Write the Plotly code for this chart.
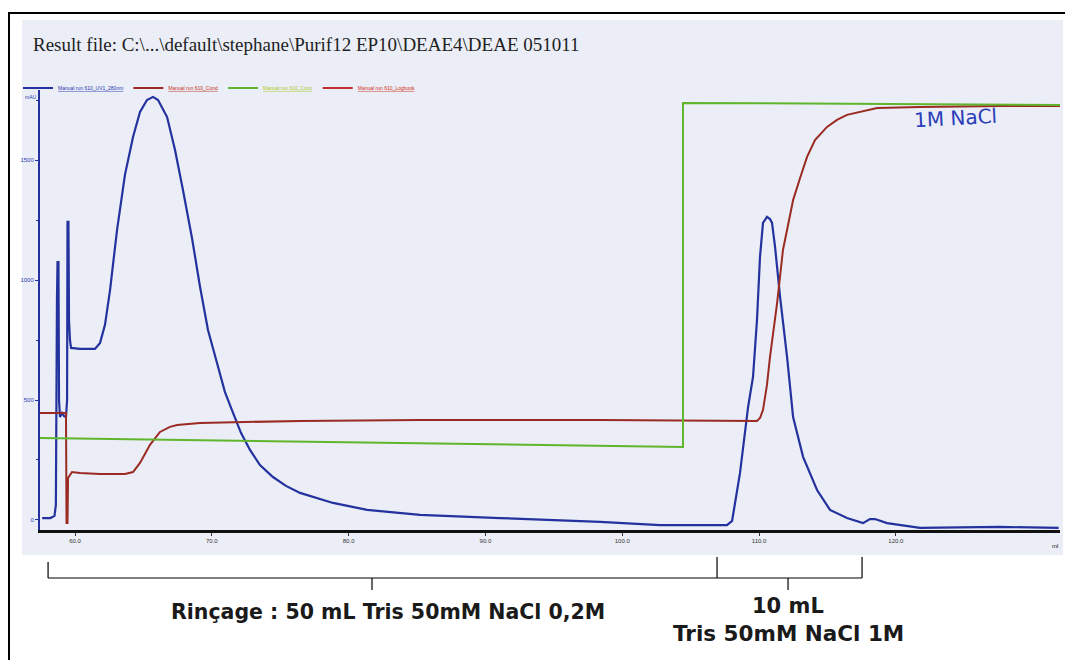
import plotly.graph_objects as go

# ---------------- data (volume in mL, signal in mAU-scale units) ----------------
uv_ml = [57.6, 58.2, 58.5, 58.6, 58.68, 58.72, 58.79, 58.83, 58.90, 59.05, 59.20, 59.34,
         59.42, 59.45, 59.52, 59.56, 59.63, 59.71, 60.37, 61.46, 61.83, 62.19, 62.56,
         63.07, 63.65, 64.24, 64.75, 65.26, 65.70, 66.07, 66.73, 67.31, 67.89, 68.55,
         69.14, 69.72, 70.38, 70.96, 71.55, 72.13, 72.79, 73.52, 74.47, 75.42, 76.45,
         78.86, 81.35, 85.22, 91.07, 98.38, 102.76, 107.66, 108.03, 108.61, 109.20,
         109.56, 109.85, 110.07, 110.29, 110.58, 110.80, 110.95, 111.17, 111.54, 112.05,
         112.49, 113.22, 114.24, 115.19, 116.43, 117.60, 118.11, 118.48, 119.36, 121.77,
         127.62, 131.9]
uv_mau = [8, 8, 17, 63, 917, 1075, 1075, 500, 429, 446, 433, 429,
          500, 1242, 1242, 833, 750, 717, 713, 713, 738, 813, 958,
          1208, 1438, 1596, 1700, 1750, 1763, 1750, 1679, 1542, 1375, 1175,
          971, 792, 654, 533, 446, 363, 292, 229, 179, 142, 113,
          71, 42, 21, 8, -8, -21, -21, -4, 196, 471,
          596, 833, 1096, 1238, 1263, 1254, 1238, 1138, 929, 679,
          429, 263, 125, 42, 8, -13, 4, 4, -13, -33,
          -29, -33]

cond_ml = [57.44, 59.34, 59.38, 59.45, 59.49, 59.78, 60.37, 61.83, 63.65, 64.24, 64.75,
           65.48, 66.21, 66.94, 67.46, 69.14, 76.45, 85.22, 98.38, 105.69, 109.85,
           110.07, 110.29, 110.58, 110.80, 111.32, 111.75, 112.27, 112.49, 113.0,
           113.51, 114.09, 114.97, 115.70, 116.43, 118.63, 121.77, 127.62, 132.0]
cond_val = [446, 446, -13, -13, 175, 200, 196, 192, 192, 200, 238,
            313, 367, 388, 396, 404, 413, 417, 417, 413, 413,
            425, 458, 563, 679, 904, 1125, 1271, 1333, 1425,
            1513, 1583, 1638, 1667, 1688, 1717, 1721, 1725, 1725]

conc_ml = [57.44, 104.44, 104.44, 132.0]
conc_val = [342, 304, 1738, 1729]

# logbook carries no plotted values in this run
logbook_ml = [None]
logbook_val = [None]

x_ticks = [60, 70, 80, 90, 100, 110, 120]
x_tick_labels = ["60.0", "70.0", "80.0", "90.0", "100.0", "110.0", "120.0"]
y_ticks = [0, 500, 1000, 1500]
y_tick_labels = ["0", "500", "1000", "1500"]

title_text = "Result file: C:\\...\\default\\stephane\\Purif12 EP10\\DEAE4\\DEAE 051011"
rinse_text = "Rinçage : 50 mL Tris 50mM NaCl 0,2M"
elute_text1 = "10 mL"
elute_text2 = "Tris 50mM NaCl 1M"
hand_text = "1M NaCl"

# bracket positions (mL)
rinse_start, rinse_end, elute_end = 58.03, 106.93, 117.53
rinse_mid, elute_mid = 81.71, 112.12

# ---------------- layout geometry ----------------
W, H = 1065, 660
L, R, T, B = 40, 1060, 90, 530


def px(xp):
    return (xp - L) / (R - L)


def py(yp):
    return (B - yp) / (B - T)


BLUE = "#23329e"
RED = "#9a2a22"
GREEN = "#5fb52c"
LOGRED = "#c0302a"

fig = go.Figure()
fig.add_trace(go.Scatter(x=uv_ml, y=uv_mau, mode="lines",
                         line=dict(color=BLUE, width=2.2),
                         name="<span style='color:#2a3ab0'><u>Manual run 610_UV1_280nm</u></span>"))
fig.add_trace(go.Scatter(x=cond_ml, y=cond_val, mode="lines",
                         line=dict(color=RED, width=2),
                         name="<span style='color:#c03020'><u>Manual run 610_Cond</u></span>"))
fig.add_trace(go.Scatter(x=conc_ml, y=conc_val, mode="lines",
                         line=dict(color=GREEN, width=2),
                         name="<span style='color:#a8c820'><u>Manual run 610_Conc</u></span>"))
fig.add_trace(go.Scatter(x=logbook_ml, y=logbook_val, mode="lines",
                         line=dict(color=LOGRED, width=2),
                         name="<span style='color:#d03020'><u>Manual run 610_Logbook</u></span>"))

shapes = [
    # scanned page background
    dict(type="rect", xref="paper", yref="paper", x0=px(22), x1=px(1063), y0=py(555), y1=py(20),
         fillcolor="#ebeef6", line=dict(width=0), layer="below"),
    # outer frame
    dict(type="rect", xref="paper", yref="paper", x0=px(9), x1=px(1080), y0=py(680), y1=py(13),
         line=dict(color="black", width=2), fillcolor="rgba(0,0,0,0)"),
]
# brackets
bl = dict(color="black", width=1.2)
yb = py(578)
shapes += [
    dict(type="line", xref="x", yref="paper", x0=rinse_start, x1=elute_end, y0=yb, y1=yb, line=bl),
    dict(type="line", xref="x", yref="paper", x0=rinse_start, x1=rinse_start, y0=yb, y1=py(562), line=bl),
    dict(type="line", xref="x", yref="paper", x0=rinse_end, x1=rinse_end, y0=yb, y1=py(557), line=bl),
    dict(type="line", xref="x", yref="paper", x0=elute_end, x1=elute_end, y0=yb, y1=py(557), line=bl),
    dict(type="line", xref="x", yref="paper", x0=rinse_mid, x1=rinse_mid, y0=yb, y1=py(590), line=bl),
    dict(type="line", xref="x", yref="paper", x0=elute_mid, x1=elute_mid, y0=yb, y1=py(590), line=bl),
]

annotations = [
    dict(text=title_text, xref="paper", yref="paper", x=px(31), y=py(45), xanchor="left",
         yanchor="middle", showarrow=False,
         font=dict(family="Liberation Serif", size=19, color="#1e1e1e")),
    dict(text="<b>" + rinse_text + "</b>", xref="x", yref="paper", x=rinse_mid + 1.2, y=py(612),
         xanchor="center", yanchor="middle", showarrow=False,
         font=dict(family="DejaVu Sans", size=20.5, color="#1a1a1a")),
    dict(text="<b>" + elute_text1 + "</b>", xref="x", yref="paper", x=elute_mid, y=py(606),
         xanchor="center", yanchor="middle", showarrow=False,
         font=dict(family="DejaVu Sans", size=21, color="#1a1a1a")),
    dict(text="<b>" + elute_text2 + "</b>", xref="x", yref="paper", x=elute_mid, y=py(633),
         xanchor="center", yanchor="middle", showarrow=False,
         font=dict(family="DejaVu Sans", size=21.5, color="#1a1a1a")),
    dict(text=hand_text, xref="paper", yref="paper", x=px(955), y=py(118), xanchor="center",
         yanchor="middle", showarrow=False, textangle=-3,
         font=dict(family="DejaVu Sans", size=20, color="#2a3cb8")),
    dict(text="mAU", xref="paper", yref="paper", x=px(31), y=py(97), xanchor="center",
         yanchor="middle", showarrow=False, font=dict(family="Arial", size=5, color="#2a3ab0")),
    dict(text="ml", xref="paper", yref="paper", x=px(1055), y=py(546), xanchor="center",
         yanchor="middle", showarrow=False, font=dict(family="Arial", size=6, color="#111")),
]

fig.update_layout(
    width=W, height=H,
    margin=dict(l=L, r=W - R, t=T, b=H - B, pad=0),
    paper_bgcolor="white",
    plot_bgcolor="rgba(0,0,0,0)",
    showlegend=True,
    legend=dict(orientation="h", x=px(18), y=py(88), xanchor="left", yanchor="middle",
                bgcolor="rgba(0,0,0,0)", font=dict(family="Arial", size=5),
                itemwidth=30, tracegroupgap=0),
    shapes=shapes,
    annotations=annotations,
    xaxis=dict(range=[57.44, 132.0], showgrid=False, zeroline=False, showline=True,
               linecolor="#111", linewidth=2.5, tickvals=x_ticks, ticktext=x_tick_labels,
               ticks="outside", ticklen=3, tickcolor="#333",
               tickfont=dict(family="Arial", size=6, color="#333")),
    yaxis=dict(range=[-41.7, 1791.7], showgrid=False, zeroline=False, showline=True,
               linecolor=BLUE, linewidth=2, tickvals=y_ticks, ticktext=y_tick_labels,
               ticks="outside", ticklen=3, tickcolor=BLUE,
               tickfont=dict(family="Arial", size=6, color="#2a3ab0"),
               minor=dict(dtick=250, ticks="outside", ticklen=2, tickcolor=BLUE)),
)

fig.write_html("out.html", config={"displayModeBar": False},
               post_script="document.body.style.margin='0px';")
